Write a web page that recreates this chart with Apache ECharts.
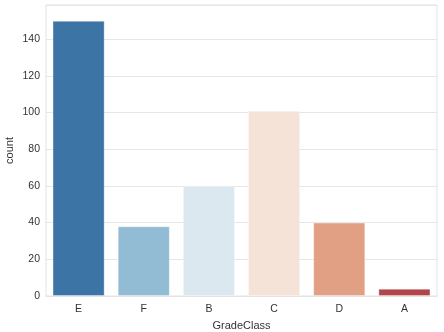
<!DOCTYPE html>
<html>
<head>
<meta charset="utf-8">
<script src="https://cdn.jsdelivr.net/npm/echarts@6/dist/echarts.min.js"></script>
<style>
  html, body { margin: 0; padding: 0; background: #ffffff; }
  #chart { width: 444px; height: 332px; }
</style>
</head>
<body>
<div id="chart"></div>
<script>
// Count of students per grade class
const categories = ['E', 'F', 'B', 'C', 'D', 'A'];
const counts = [150, 38, 60, 101, 40, 4];
const barColors = ['#3c74a6', '#92bcd3', '#dce8f0', '#f5e3d8', '#e1a084', '#b2444b'];
const yTicks = [0, 20, 40, 60, 80, 100, 120, 140];

const font = '"Liberation Sans", Arial, sans-serif';
const chart = echarts.init(document.getElementById('chart'), null, { renderer: 'canvas' });

chart.setOption({
  animation: false,
  backgroundColor: '#ffffff',
  grid: {
    left: 46, right: 7, top: 5, bottom: 36,
    containLabel: false,
    outerBoundsMode: 'none',
    show: true, borderColor: '#e3e3e3', borderWidth: 1, backgroundColor: 'transparent'
  },
  xAxis: {
    type: 'category',
    data: categories,
    name: 'GradeClass',
    nameLocation: 'middle',
    nameGap: 24,
    nameMoveOverlap: false,
    nameTextStyle: { fontFamily: font, fontSize: 11, color: '#333333' },
    axisLine: { show: true, lineStyle: { color: '#e3e3e3', width: 1 } },
    axisTick: { show: false },
    axisLabel: { fontFamily: font, fontSize: 10.5, color: '#333333', margin: 8 },
    splitLine: { show: false }
  },
  yAxis: {
    type: 'value',
    min: 0,
    max: 158.6,
    interval: 20,
    name: 'count',
    nameLocation: 'middle',
    nameGap: 31,
    nameMoveOverlap: false,
    nameTextStyle: { fontFamily: font, fontSize: 11, color: '#333333' },
    axisLine: { show: false },
    axisTick: { show: false },
    axisLabel: {
      fontFamily: font, fontSize: 10.5, color: '#333333', margin: 6,
      formatter: v => (yTicks.includes(v) ? String(v) : '')
    },
    splitLine: { show: true, lineStyle: { color: '#e6e6e6', width: 1 } }
  },
  series: [{
    type: 'bar',
    barWidth: '80%',
    data: counts.map((v, i) => ({
      value: v,
      itemStyle: { color: barColors[i], borderColor: 'rgba(255,255,255,0.35)', borderWidth: 1 }
    }))
  }]
});
</script>
</body>
</html>
